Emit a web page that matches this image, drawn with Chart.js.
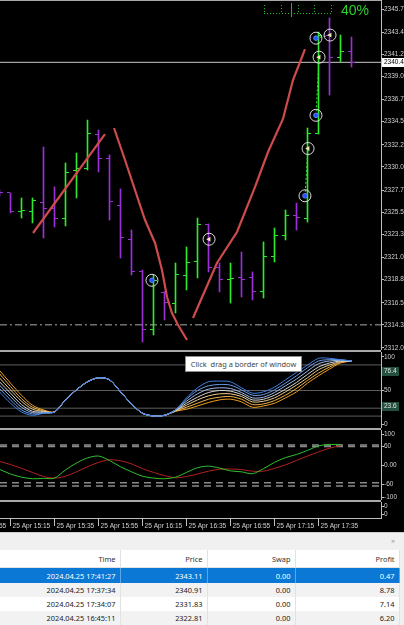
<!DOCTYPE html>
<html>
<head>
<meta charset="utf-8">
<title>XAUUSD M5</title>
<script src="https://cdn.jsdelivr.net/npm/chart.js@4.4.1/dist/chart.umd.min.js"></script>
<style>
html, body { margin: 0; padding: 0; }
body { width: 404px; height: 625px; position: relative; overflow: hidden; background: #000; }
canvas { position: absolute; left: 0; }
.sep { position: absolute; left: 0; width: 381px; height: 2px; background: #a9a9a9; }
#tip { position: absolute; left: 185px; top: 356px; width: 115px; height: 14px; background: #fff; border: 1px solid #8c8c8c;
       color: #444; font: 7.4px "Noto Sans", sans-serif; line-height: 14px; text-align: center; white-space: pre; }
#term { position: absolute; left: 0; top: 532px; width: 404px; height: 93px; background: #f0f0f0; border-top: 1px solid #cfcfcf;
        font-family: "Noto Sans", sans-serif; font-size: 7.4px; color: #222; }
#close { position: absolute; left: 391px; top: 4px; color: #999; font-size: 7px; }
table { position: absolute; left: -30px; top: 17px; width: 429px; border-collapse: collapse; table-layout: fixed; }
td, th { padding: 0 4px 0 0; text-align: right; font-weight: normal; border-right: 1px solid #e2e2e2; white-space: nowrap; overflow: hidden; }
th { height: 17px; background: #fff; color: #333; border-bottom: 1px solid #e2e2e2; }
td { height: 14px; }
tr.sel td { height: 15px; background: #0a78d4; color: #fff; border-right-color: #5aa6e6; }
tr.alt td { background: #f2f2f2; }
tr.plain td { background: #fff; }
</style>
</head>
<body>
<canvas id="price" width="404" height="350" style="top:0"></canvas>
<div class="sep" style="top:0; height:1px"></div>
<div class="sep" style="top:350px"></div>
<canvas id="osc" width="404" height="76" style="top:352px"></canvas>
<div class="sep" style="top:428px"></div>
<canvas id="macd" width="404" height="70" style="top:430px"></canvas>
<div class="sep" style="top:500px"></div>
<canvas id="empty" width="404" height="30" style="top:502px"></canvas>
<div id="tip">Click  drag a border of window</div>
<div id="term">
  <span id="close">×</span>
  <table>
    <colgroup><col style="width:150px"><col style="width:87px"><col style="width:88px"><col style="width:104px"></colgroup>
    <thead><tr><th>Time</th><th>Price</th><th>Swap</th><th>Profit</th></tr></thead>
    <tbody id="deals"></tbody>
  </table>
</div>
<script>
// XAUUSD M5, 25 Apr 2024, bar 0 = 15:10 ... bar 32 = 17:50
const barOpen  = [2327.61, 2327.41, 2325.52, 2325.52, 2326.51, 2325.82, 2324.92, 2329.69, 2329.89, 2333.27, 2330.79, 2326.12, 2322.74, 2319.56, 2313.79, 2317.50, 2316.47, 2319.16, 2320.55, 2324.23, 2320.05, 2318.76, 2318.96, 2318.96, 2317.57, 2321.05, 2323.23, 2325.22, 2324.92, 2333.37, 2343.11, 2340.83, 2341.52];
const barHigh  = [2327.71, 2327.41, 2326.91, 2326.91, 2331.98, 2328.01, 2330.39, 2331.38, 2334.66, 2333.67, 2331.19, 2327.81, 2323.73, 2319.75, 2319.26, 2317.60, 2320.45, 2322.04, 2324.92, 2324.33, 2320.45, 2320.45, 2321.54, 2319.56, 2322.54, 2323.93, 2325.72, 2326.41, 2333.87, 2343.41, 2344.80, 2343.11, 2342.91];
const barLow   = [2327.11, 2325.42, 2324.92, 2324.43, 2322.94, 2324.03, 2324.13, 2326.91, 2329.69, 2329.50, 2324.72, 2320.95, 2319.26, 2312.60, 2313.29, 2314.78, 2315.48, 2317.77, 2318.96, 2319.56, 2317.57, 2316.47, 2317.07, 2316.77, 2316.97, 2320.55, 2322.74, 2323.73, 2324.52, 2333.27, 2337.15, 2340.43, 2339.93];
const barClose = [2327.41, 2325.52, 2325.62, 2326.71, 2325.82, 2324.92, 2329.40, 2329.89, 2333.37, 2330.79, 2326.61, 2322.94, 2319.56, 2313.79, 2318.66, 2316.57, 2319.26, 2320.45, 2324.23, 2320.05, 2318.76, 2318.86, 2318.76, 2317.57, 2321.05, 2323.23, 2325.22, 2325.02, 2333.37, 2343.11, 2340.83, 2341.43, 2340.43];

const priceTicks = [2345.7, 2343.4, 2341.2, 2339.0, 2336.7, 2334.5, 2332.2, 2330.0, 2327.7, 2325.5, 2323.3, 2321.0, 2318.8, 2316.5, 2314.3, 2312.0];
const bidPrice = 2340.4;
const supportPrice = 2314.3;
const barProgress = 40;

// hand-drawn trend lines (bar index, price)
const trendAIdx = [3.05, 9.59];
const trendAPrice = [2323.43, 2333.27];
const trendBIdx = [10.41, 11.41, 13.23, 14.14, 14.77, 15.23, 15.68, 16.23, 17.05];
const trendBPrice = [2333.87, 2330.69, 2324.72, 2322.44, 2319.75, 2317.07, 2315.48, 2314.29, 2312.79];
const trendCIdx = [17.59, 19.77, 21.59, 23.23, 24.41, 25.77, 26.68, 27.50, 27.77];
const trendCPrice = [2314.98, 2320.45, 2323.53, 2328.01, 2331.48, 2334.77, 2338.64, 2340.93, 2341.72];

// closed buy trades
const tradeOpenIdx = [13.86, 27.77, 28.77, 28.77];
const tradeOpenPrice = [2318.73, 2327.13, 2335.13, 2342.80];
const tradeCloseIdx = [19.05, 28.05, 29.05, 30.05];
const tradeClosePrice = [2322.81, 2331.83, 2340.91, 2343.11];

// oscillator ribbon, slow (orange) -> fast (blue)
const ribbon0 = [80, 61, 43, 28, 21, 18, 36, 51, 63, 69, 66, 48, 30, 16, 12, 13, 19, 22, 27, 32, 36, 37, 33, 25, 27, 31, 39, 48, 61, 72, 82, 91, 94];
const ribbon1 = [75, 56, 38, 25, 20, 18, 36, 51, 63, 69, 66, 48, 30, 16, 12, 13, 19, 25, 31, 37, 40, 41, 37, 29, 30, 35, 43, 53, 65, 76, 85, 92, 94];
const ribbon2 = [69, 51, 34, 22, 19, 18, 36, 51, 63, 69, 66, 48, 30, 16, 12, 13, 20, 28, 36, 42, 45, 45, 41, 33, 34, 39, 48, 58, 69, 81, 88, 93, 94];
const ribbon3 = [63, 46, 29, 19, 18, 18, 36, 51, 63, 69, 66, 48, 30, 16, 12, 13, 20, 31, 40, 47, 50, 49, 44, 36, 37, 43, 52, 62, 74, 85, 91, 94, 94];
const ribbon4 = [58, 41, 25, 17, 17, 18, 36, 51, 63, 69, 66, 48, 30, 16, 12, 13, 21, 34, 45, 52, 54, 53, 47, 39, 40, 47, 57, 67, 79, 90, 94, 95, 94];
const ribbon5 = [53, 36, 21, 15, 16, 18, 36, 51, 63, 69, 66, 48, 30, 16, 12, 13, 21, 37, 50, 57, 59, 58, 51, 43, 44, 51, 61, 72, 84, 94, 96, 96, 94];
const ribbon6 = [48, 31, 18, 13, 16, 18, 36, 51, 63, 69, 66, 48, 30, 16, 12, 13, 21, 39, 54, 63, 64, 63, 54, 46, 48, 55, 66, 77, 88, 98, 98, 96, 94];
const oscLevels = [88.2, 50, 23.6, 11.8];
const oscTicks = [100, 50, 0];
const oscBoxes = [76.4, 23.6];

// second oscillator
const macdMain   = [-12, -27, -37, -42, -41, -40, -14, 8, 24, 30, 16, -4, -20, -34, -40, -42, -37, -22, -7, -2, -8, -17, -20, -26, -10, 10, 25, 35, 48, 62, 67, 66];
const macdSignal = [13, 3, -9, -22, -35, -40, -34, -20, -4, 10, 18, 15, 5, -10, -22, -32, -39, -35, -27, -18, -12, -11, -13, -18, -18, -9, 2, 16, 30, 43, 55, 63];
const macdLevels = [65, 60, -55, -65];
const macdTicks = [100, 60, 0, -60, -100];

const timeTickIdx = [-3, 1, 5, 9, 13, 17, 21, 25, 29];
const timeTickLabels = ['25 Apr 14:55', '25 Apr 15:15', '25 Apr 15:35', '25 Apr 15:55', '25 Apr 16:15', '25 Apr 16:35', '25 Apr 16:55', '25 Apr 17:15', '25 Apr 17:35'];

const dealTime = ['2024.04.25 17:41:27', '2024.04.25 17:37:34', '2024.04.25 17:34:07', '2024.04.25 16:45:11'];
const dealPrice = ['2343.11', '2340.91', '2331.83', '2322.81'];
const dealSwap = ['0.00', '0.00', '0.00', '0.00'];
const dealProfit = ['0.47', '8.78', '7.14', '6.20'];

// ---------------------------------------------------------------
Chart.defaults.animation = false;
Chart.defaults.events = [];
Chart.defaults.plugins.legend.display = false;
Chart.defaults.plugins.tooltip.enabled = false;
Chart.defaults.font.family = '"Liberation Sans", Arial, sans-serif';

const AXIS = '#bdbdbd', LABEL = '#cfcfcf';
const X_MIN = 0.5 / 11, X_MAX = X_MIN + 381 / 11;   // 11px per bar, plot 381px wide
const BULL = '#2ee82e', BEAR = '#9b30d6';

const hiddenX = { type: 'linear', min: X_MIN, max: X_MAX, display: false, offset: false, bounds: 'data', grid: { offset: false } };

function rightAxis(min, max, ticks, fmt) {
  return {
    position: 'right', min: min, max: max, bounds: 'data',
    afterBuildTicks: s => { s.ticks = ticks.map(v => ({ value: v })); },
    afterFit: s => { s.width = 23; s.paddingTop = 0; s.paddingBottom = 0; },
    ticks: { color: LABEL, font: { size: 6.5 }, padding: 0, autoSkip: false, callback: fmt },
    grid: { drawOnChartArea: false, tickLength: 3, color: AXIS },
    border: { display: true, color: AXIS }
  };
}

function pts(xs, ys) { return xs.map((x, i) => ({ x: x, y: ys[i] })); }
function series(vals) { return vals.map((v, i) => ({ x: i, y: v })); }
function hline(y, color, width, dash, order) {
  return { type: 'line', data: [{ x: X_MIN, y: y }, { x: X_MAX, y: y }], borderColor: color, borderWidth: width,
           borderDash: dash, pointRadius: 0, order: order };
}
function tick(color, from) {
  const c = document.createElement('canvas');
  c.width = 9; c.height = 1;
  const g = c.getContext('2d');
  g.fillStyle = color;
  g.fillRect(from, 0, 3, 1);
  return c;
}

const base = { responsive: false, devicePixelRatio: 1, layout: { padding: 0, autoPadding: false } };

// ---------- price window ----------
const bull = barOpen.map((o, i) => barClose[i] >= o);
const img = { openUp: tick(BULL, 1), closeUp: tick(BULL, 5), openDn: tick(BEAR, 1), closeDn: tick(BEAR, 5) };

const tradeLines = [1, 2, 3].map(k => ({
  type: 'line', data: [{ x: tradeOpenIdx[k], y: tradeOpenPrice[k] }, { x: tradeCloseIdx[k], y: tradeClosePrice[k] }],
  borderColor: '#2ee82e', borderWidth: 1, borderDash: [2, 2], pointRadius: 0, order: 2
}));
const trend = (xs, ys) => ({ type: 'line', data: pts(xs, ys), borderColor: '#cf4b4b', borderWidth: 2.2,
                              pointRadius: 0, tension: 0, order: 3 });

const priceExtras = {
  id: 'priceExtras',
  afterDraw(chart) {
    const { ctx, chartArea: a } = chart;
    const y = chart.scales.y;
    const py = Math.round(y.getPixelForValue(bidPrice));
    ctx.save();
    ctx.fillStyle = '#ffffff';
    ctx.fillRect(a.right + 1, py - 4, 23, 9);
    ctx.fillStyle = '#000';
    ctx.font = '6.5px "Liberation Sans"';
    ctx.textBaseline = 'middle';
    ctx.fillText(bidPrice.toFixed(1), a.right + 3, py + 0.5);

    // bar timer
    const x0 = a.right - 117, x1 = a.right - 50;
    ctx.strokeStyle = '#23b823';
    ctx.lineWidth = 1;
    ctx.setLineDash([1, 2]);
    ctx.beginPath();
    ctx.moveTo(x0, 13.5); ctx.lineTo(x1, 13.5);
    for (let q = 0; q <= 4; q++) {
      const xq = Math.round(x0 + (x1 - x0) * q / 4) + 0.5;
      ctx.moveTo(xq, 5); ctx.lineTo(xq, 13);
    }
    ctx.stroke();
    ctx.setLineDash([]);
    const xp = Math.round(x0 + (x1 - x0) * barProgress / 100) + 0.5;
    ctx.beginPath(); ctx.moveTo(xp, 3); ctx.lineTo(xp, 17); ctx.stroke();
    ctx.fillStyle = '#2bd22b';
    ctx.font = '14px "Liberation Sans"';
    ctx.textAlign = 'right';
    ctx.textBaseline = 'alphabetic';
    ctx.fillText(barProgress + '%', a.right - 12, 15);
    ctx.restore();
  }
};

new Chart(document.getElementById('price'), {
  type: 'bar',
  data: {
    datasets: [
      { type: 'scatter', data: pts(tradeOpenIdx, tradeOpenPrice), pointStyle: 'circle', pointRadius: 2.3,
        backgroundColor: '#2453ff', borderColor: '#5b7dff', borderWidth: 1, order: 0 },
      { type: 'scatter', data: pts(tradeCloseIdx, tradeClosePrice), pointStyle: 'triangle', pointRotation: -90, pointRadius: 2.8,
        backgroundColor: '#f3e2b4', borderColor: '#f3e2b4', borderWidth: 0, order: 0 },
      { type: 'scatter', data: pts(tradeOpenIdx.concat(tradeCloseIdx), tradeOpenPrice.concat(tradeClosePrice)), pointStyle: 'circle',
        pointRadius: 6, backgroundColor: 'rgba(0,0,0,0)', borderColor: '#dadada', borderWidth: 1, order: 1 },
      ...tradeLines,
      trend(trendAIdx, trendAPrice),
      trend(trendBIdx, trendBPrice),
      trend(trendCIdx, trendCPrice),
      { type: 'scatter', data: series(barOpen), pointRadius: 4,
        pointStyle: c => bull[c.dataIndex] ? img.openUp : img.openDn, order: 4 },
      { type: 'scatter', data: series(barClose), pointRadius: 4,
        pointStyle: c => bull[c.dataIndex] ? img.closeUp : img.closeDn, order: 4 },
      { type: 'bar', data: barHigh.map((h, i) => ({ x: i, y: [barLow[i], h] })), backgroundColor: bull.map(b => b ? BULL : BEAR),
        barThickness: 1, borderWidth: 0, order: 5 },
      hline(bidPrice, '#c9c9c9', 1, [], 6),
      hline(supportPrice, '#a3afa3', 1, [7, 3, 2, 3], 6)
    ]
  },
  options: Object.assign({}, base, {
    scales: {
      x: hiddenX,
      y: rightAxis(2311.80, 2346.595, priceTicks, v => v.toFixed(1))
    }
  }),
  plugins: [priceExtras]
});

// ---------- ribbon oscillator ----------
const ribbons = [ribbon0, ribbon1, ribbon2, ribbon3, ribbon4, ribbon5, ribbon6];
const ribbonColors = ['#f2a01c', '#f0b447', '#eccc8c', '#d6d6d6', '#9cb9e8', '#6b9be6', '#3f80e4'];

const oscBoxPlugin = {
  id: 'oscBoxes',
  afterDraw(chart) {
    const { ctx, chartArea: a } = chart;
    ctx.save();
    ctx.font = '6.5px "Liberation Sans"';
    ctx.textBaseline = 'middle';
    oscBoxes.forEach(v => {
      const py = Math.round(chart.scales.y.getPixelForValue(v)) - 2;
      ctx.fillStyle = '#24513f';
      ctx.fillRect(a.right + 1, py - 4, 17, 9);
      ctx.fillStyle = '#e4e4e4';
      ctx.fillText(v.toFixed(1), a.right + 3, py + 0.5);
    });
    ctx.restore();
  }
};

new Chart(document.getElementById('osc'), {
  type: 'line',
  data: {
    datasets: ribbons.map((r, k) => ({ data: series(r), borderColor: ribbonColors[k], borderWidth: 1,
                                        pointRadius: 0, tension: 0.3, order: 10 - k }))
      .concat(oscLevels.map(v => hline(v, '#5f5f5f', 1, [], 20)))
  },
  options: Object.assign({}, base, {
    scales: { x: hiddenX, y: rightAxis(-5.97, 107.46, oscTicks, v => String(v)) }
  }),
  plugins: [oscBoxPlugin]
});

// ---------- second oscillator ----------
new Chart(document.getElementById('macd'), {
  type: 'line',
  data: {
    datasets: [
      { data: series(macdMain), borderColor: '#2fc02f', borderWidth: 1, pointRadius: 0, tension: 0.3, order: 0 },
      { data: series(macdSignal), borderColor: '#b42222', borderWidth: 1, pointRadius: 0, tension: 0.3, order: 1 }
    ].concat(macdLevels.map(v => hline(v, '#8a8a8a', 1.5, [7, 5], 20)))
  },
  options: Object.assign({}, base, {
    scales: { x: hiddenX, y: rightAxis(-109.5, 112.7, macdTicks, v => v === 0 ? '0.00' : String(v)) }
  })
});

// ---------- empty window + time axis ----------
new Chart(document.getElementById('empty'), {
  type: 'line',
  data: { datasets: [{ data: [], pointRadius: 0 }] },
  options: Object.assign({}, base, {
    scales: {
      x: {
        type: 'linear', min: X_MIN, max: X_MAX, position: 'bottom', bounds: 'data', offset: false,
        afterBuildTicks: s => { s.ticks = timeTickIdx.map(v => ({ value: v })); },
        afterFit: s => { s.height = 14; s.paddingLeft = 0; s.paddingRight = 0; },
        ticks: { color: LABEL, font: { size: 6.6 }, align: 'start', autoSkip: false, maxRotation: 0, minRotation: 0,
                 padding: -4, labelOffset: 2, callback: (v, k) => timeTickLabels[k] },
        grid: { drawOnChartArea: false, tickLength: 8, color: AXIS, offset: false },
        border: { display: true, color: AXIS }
      },
      y: rightAxis(0, 1, [0.75, 0.25], () => '0')
    }
  })
});

// ---------- deals table ----------
const body = document.getElementById('deals');
dealTime.forEach((t, i) => {
  const tr = document.createElement('tr');
  tr.className = i === 0 ? 'sel' : (i % 2 ? 'alt' : 'plain');
  [t, dealPrice[i], dealSwap[i], dealProfit[i]].forEach(s => {
    const td = document.createElement('td');
    td.textContent = s;
    tr.appendChild(td);
  });
  body.appendChild(tr);
});
</script>
</body>
</html>
